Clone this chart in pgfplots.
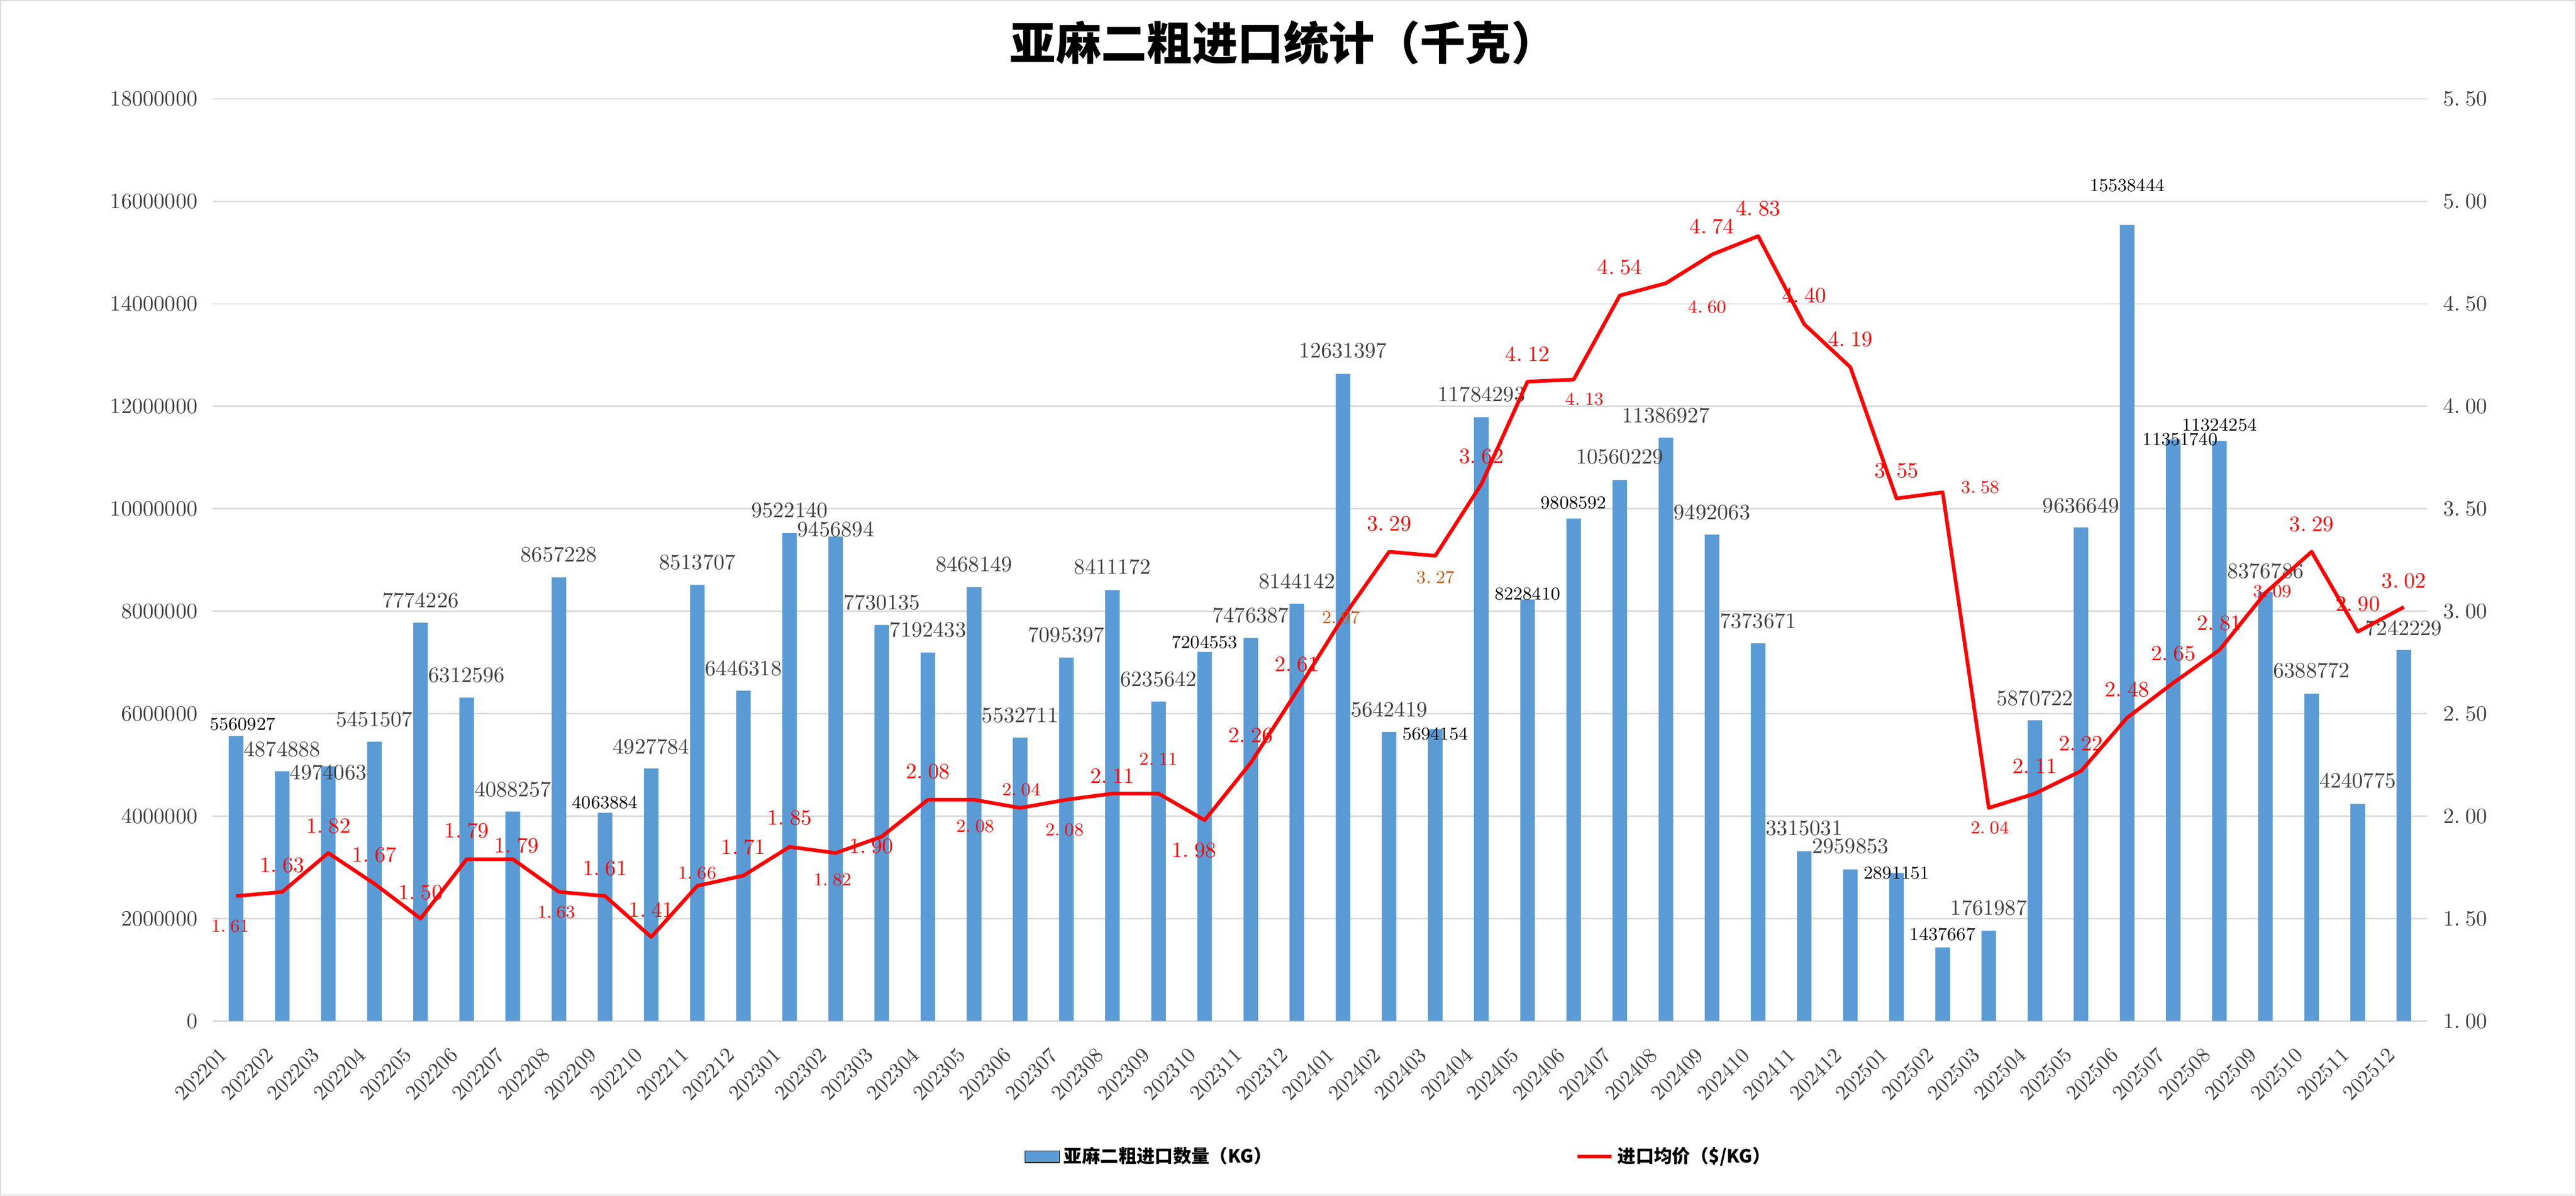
\documentclass[border=0pt]{standalone}
\usepackage{fontspec}
\newfontfamily\cjk{Noto Sans CJK SC}
\usepackage{pgfplots}
\usepackage{pgfplotstable}
\pgfplotsset{compat=1.18}
\definecolor{barblue}{HTML}{5B9BD5}
\definecolor{linered}{HTML}{FF0000}
\definecolor{lblorange}{HTML}{C55A11}
\definecolor{txtgray}{HTML}{404040}
\definecolor{gridgray}{HTML}{D9D9D9}

\pgfplotstableread{
x m y dy dx s
0 202201 5560927 5.8 3.2 0
1 202202 4874888 11 0 1
2 202203 4974063 -3 0 1
3 202204 5451507 11 0 1
4 202205 7774226 11 0 1
5 202206 6312596 11 0 1
6 202207 4088257 11 0 1
7 202208 8657228 11.4 0 1
8 202209 4063884 5.2 0 0
9 202210 4927784 10.8 0 1
10 202211 8513707 11.2 0 1
11 202212 6446318 11.2 0 1
12 202301 9522140 11.4 0 1
13 202302 9456894 3.6 0 1
14 202303 7730135 11.2 0 1
15 202304 7192433 11.2 0 1
16 202305 8468149 11.2 0 1
17 202306 5532711 11 0 1
18 202307 7095397 11.2 0 1
19 202308 8411172 11.4 0 1
20 202309 6235642 11 0 1
21 202310 7204553 4.8 0 0
22 202311 7476387 11.2 0 1
23 202312 8144142 11 0 1
24 202401 12631397 11.6 0 1
25 202402 5642419 11 0 1
26 202403 5694154 -2.4 0 0
27 202404 11784293 11.4 0 1
28 202405 8228410 2.8 0 0
29 202406 9808592 7.8 0 0
30 202407 10560229 11.4 0 1
31 202408 11386927 11 0 1
32 202409 9492063 11 0 1
33 202410 7373671 11 0 1
34 202411 3315031 11.4 0 1
35 202412 2959853 11.4 0 1
36 202501 2891151 0 0 0
37 202502 1437667 6.4 0 0
38 202503 1761987 11.4 0 1
39 202504 5870722 11 0 1
40 202505 9636649 10.6 0 1
41 202506 15538444 19.6 0 0
42 202507 11351740 0 3.4 0
43 202508 11324254 8 0 0
44 202509 8376786 10.2 0 1
45 202510 6388772 11.4 0 1
46 202511 4240775 11.4 0 1
47 202512 7242229 10.8 0 1
}\bars

\pgfplotstableread{
x y dy dx s c
0 1.61 -14.8 -2.8 0 0
1 1.63 13.2 0 1 0
2 1.82 13.4 0 1 0
3 1.67 14.2 0 1 0
4 1.50 13 0 1 0
5 1.79 14.2 0 1 0
6 1.79 6.8 1.8 1 0
7 1.63 -10 -1.2 0 0
8 1.61 13.6 0 1 0
9 1.41 13.6 0 1 0
10 1.66 6.4 0 0 0
11 1.71 14 0 1 0
12 1.85 14.4 0 1 0
13 1.82 -13.2 -1.6 0 0
14 1.90 -4.6 -5.2 1 0
15 2.08 14 0 1 0
16 2.08 -13 0.6 0 0
17 2.04 9 0.6 0 0
18 2.08 -14.8 -0.8 0 0
19 2.11 8.8 0 1 0
20 2.11 17 0 0 0
21 1.98 -14.8 -5.2 1 0
22 2.26 13.6 0 1 0
23 2.61 13.2 0 1 0
24 2.97 0 -1 0 1
25 3.29 13.8 0 1 0
26 3.27 -10.6 0.2 0 1
27 3.62 13.8 0 1 0
28 4.12 13.8 0 1 0
29 4.13 -9.6 5.4 0 0
30 4.54 14 0 1 0
31 4.60 -11.8 20.4 0 0
32 4.74 13.8 0 1 0
33 4.83 13.6 0 1 0
34 4.40 14.2 0 1 0
35 4.19 13.8 0 1 0
36 3.55 13.6 0 1 0
37 3.58 2.4 18.6 0 0
38 2.04 -9.8 0.6 0 0
39 2.11 13.6 0 1 0
40 2.22 13.6 0 1 0
41 2.48 14 0 1 0
42 2.65 14.6 0 1 0
43 2.81 13.2 0 1 0
44 3.09 0.6 3.4 0 0
45 3.29 13.6 0 1 0
46 2.90 13.6 0 1 0
47 3.02 12.8 0 1 0
}\price

\begin{document}
\begin{tikzpicture}
\draw[gridgray, line width=0.6bp] (0.3bp,0.3bp) rectangle (1271.9bp,590.3bp);
\begin{axis}[
  at={(105.2bp,86.2bp)}, anchor=south west,
  width=1093.4bp, height=455.6bp, scale only axis,
  xmin=-0.5, xmax=47.5, ymin=0, ymax=18000000,
  clip=false,
  scaled y ticks=false,
  axis line style={draw=none},
  major tick length=0pt,
  xtick={0,1,...,47},
  xticklabels from table={\bars}{m},
  xticklabel style={inner sep=0pt, xshift=-6bp, yshift=-15bp, rotate=45, anchor=east,
    font=\fontsize{10.5bp}{12bp}\selectfont, text=txtgray},
  ytick={0,2000000,4000000,6000000,8000000,10000000,12000000,14000000,16000000,18000000},
  yticklabels={0,2000000,4000000,6000000,8000000,10000000,12000000,14000000,16000000,18000000},
  yticklabel style={inner sep=0pt, xshift=-7.4bp, anchor=east,
    font=\fontsize{10.8bp}{12bp}\selectfont, text=txtgray},
  ymajorgrids, major grid style={gridgray, line width=0.6bp},
  title={亚麻二粗进口统计（千克）},
  title style={at={(0.4835,1.0478)}, anchor=center, inner sep=0pt,
    font=\cjk\bfseries\fontsize{22.5bp}{26bp}\selectfont, text=black},
]
\addplot[ybar, bar width=7.2bp, fill=barblue, draw=none,
  point meta=explicit symbolic,
  visualization depends on={\thisrow{dy} \as \bdy},
  visualization depends on={\thisrow{dx} \as \bdx},
  visualization depends on={\thisrow{s} \as \bsz},
  nodes near coords={\ifdim\bsz pt>0.5pt \fontsize{10.8bp}{12bp}\selectfont\color{txtgray}\else\fontsize{9bp}{10bp}\selectfont\color{black}\fi\pgfplotspointmeta},
  every node near coord/.append style={anchor=center, inner sep=0pt, xshift=\bdx bp, yshift=\bdy bp},
] table[x=x, y=y, meta=y] {\bars};
\end{axis}
\begin{axis}[
  at={(105.2bp,86.2bp)}, anchor=south west,
  width=1093.4bp, height=455.6bp, scale only axis,
  xmin=-0.5, xmax=47.5, ymin=1, ymax=5.5,
  clip=false,
  axis x line=none, axis y line*=right,
  axis line style={draw=none},
  major tick length=0pt,
  ytick={1,1.5,2,2.5,3,3.5,4,4.5,5,5.5},
  yticklabels={1.\hspace{0.25em}00,1.\hspace{0.25em}50,2.\hspace{0.25em}00,2.\hspace{0.25em}50,3.\hspace{0.25em}00,3.\hspace{0.25em}50,4.\hspace{0.25em}00,4.\hspace{0.25em}50,5.\hspace{0.25em}00,5.\hspace{0.25em}50},
  yticklabel style={inner sep=0pt, xshift=7.8bp, anchor=west,
    font=\fontsize{10.8bp}{12bp}\selectfont, text=txtgray},
  legend columns=2,
  legend style={at={(0.536,-0.147)}, anchor=center, draw=none, fill=none,
    font=\cjk\bfseries\fontsize{9bp}{10bp}\selectfont, text=black,
    /tikz/every even column/.append style={column sep=148bp}},
]
\addlegendimage{area legend, fill=barblue, draw=none}
\addlegendentry{亚麻二粗进口数量（KG）}
\addplot[linered, line width=1.8bp, line join=round, mark=none,
  point meta=y,
  visualization depends on={\thisrow{dy} \as \ldy},
  visualization depends on={\thisrow{dx} \as \ldx},
  visualization depends on={\thisrow{s} \as \lsz},
  visualization depends on={\thisrow{c} \as \lcl},
  nodes near coords={\ifdim\lcl pt>0.5pt \color{lblorange}\else\color{linered}\fi\ifdim\lsz pt>0.5pt \fontsize{10.8bp}{12bp}\selectfont\else\fontsize{9bp}{10bp}\selectfont\fi\pgfmathprintnumber[fixed,fixed zerofill,precision=2,assume math mode=true,set decimal separator={.\hspace{0.25em}}]{\pgfplotspointmeta}},
  every node near coord/.append style={anchor=center, inner sep=0pt, xshift=\ldx bp, yshift=\ldy bp},
] table[x=x, y=y] {\price};
\addlegendentry{进口均价（\$/KG）}
\end{axis}
\pgfresetboundingbox
\path[use as bounding box] (0,0) rectangle (1272.2bp,590.6bp);
\end{tikzpicture}
\end{document}
